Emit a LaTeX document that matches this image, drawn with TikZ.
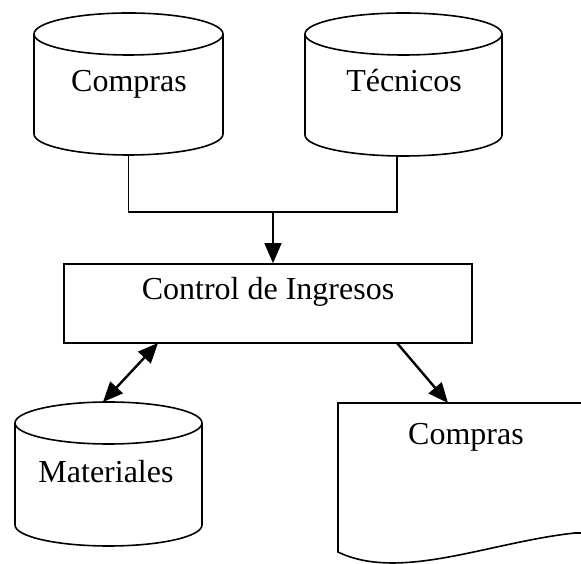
\documentclass[tikz,border=0pt]{standalone}
\usepackage{fontspec}
\setmainfont{Liberation Serif}
\usetikzlibrary{arrows.meta}
\newcommand{\cilindro}[5]{% centro x, y tapa, y fondo, radio x, radio y
  \draw (#1-#4,#2) -- (#1-#4,#3) arc[start angle=180,end angle=360,x radius=#4,y radius=#5] -- (#1+#4,#2);
  \draw (#1,#2) ellipse[x radius=#4,y radius=#5];}

\begin{document}
\begin{tikzpicture}[x=1pt,y=1pt,line width=1.6pt,>={Triangle[length=20pt,width=17pt]},
  texto/.style={anchor=base,inner sep=0pt,font=\fontsize{32}{38}\selectfont},
  flecha/.style={line width=2.4pt}]
\useasboundingbox (0,0) rectangle (581,564);
\clip (0,0) rectangle (581,564);

\cilindro{128.5}{530}{430}{94.5}{21}
\cilindro{403.5}{530}{429}{98.5}{21}
\cilindro{108.5}{141}{39}{93.5}{21}

\node[texto] (compras) at (129,472) {Compras};
\node[texto] (tecnicos) at (404,472) {Técnicos};
\node[texto] (materiales) at (106,81) {Materiales};

\node[draw,inner sep=0pt,minimum width=408pt,minimum height=79pt,text height=22pt,text depth=29pt,font=\fontsize{32}{38}\selectfont] (control) at (268,260.5) {Control de Ingresos};

% reporte
\draw (338,161) -- (338,12) .. controls (400,-18) and (490,22) .. (575,31) -- (600,31) -- (600,161) -- cycle;
\node[texto] (reporte) at (466,119) {Compras};

\coordinate (compras-s) at (128.5,409);
\coordinate (tecnicos-s) at (397,409);
\coordinate (union) at (273,352);
\coordinate (control-a) at (158,221);
\coordinate (control-b) at (397,221);
\coordinate (materiales-n) at (103,162);
\coordinate (reporte-n) at (448,161);

\draw (compras-s) |- (union) -| (tecnicos-s);
\draw[->] (union) -- (control.north -| union);
\draw[flecha,<->] (control-a) -- (materiales-n);
\draw[flecha,->] (control-b) -- (reporte-n);
\end{tikzpicture}
\end{document}
